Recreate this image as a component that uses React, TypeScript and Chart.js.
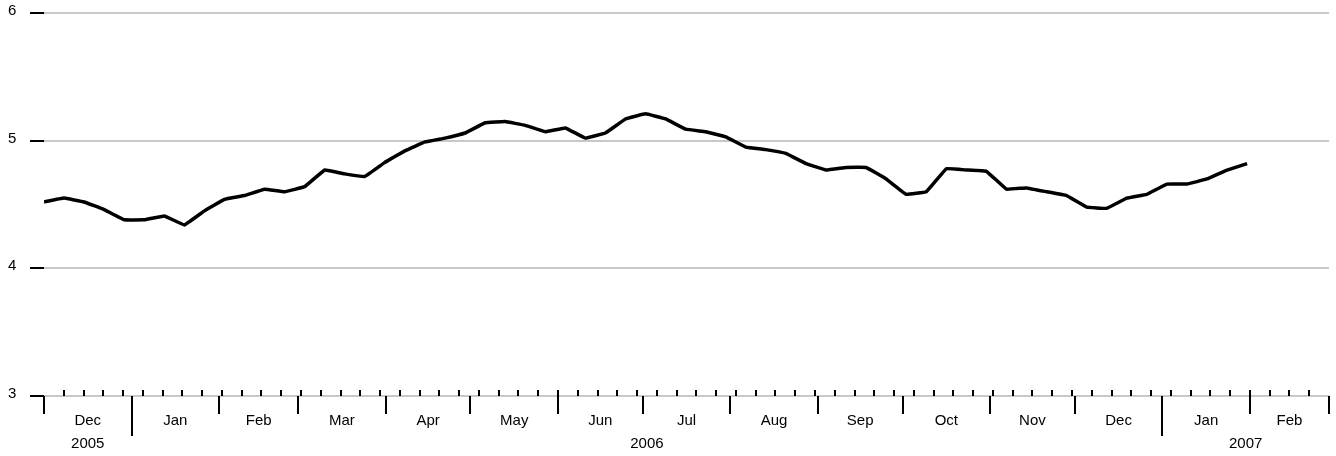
import { useEffect, useRef } from "react";
import { Chart, ChartConfiguration, Plugin, registerables } from "chart.js";

Chart.register(...registerables);

// weekly values starting 2005-12-01
const startDate = Date.UTC(2005, 11, 1);
const values = [
  4.52, 4.55, 4.52, 4.46, 4.38, 4.38, 4.41, 4.34, 4.45, 4.54, 4.57, 4.62, 4.6,
  4.64, 4.77, 4.74, 4.72, 4.83, 4.92, 4.99, 5.02, 5.06, 5.14, 5.15, 5.12, 5.07,
  5.1, 5.02, 5.06, 5.17, 5.21, 5.17, 5.09, 5.07, 5.03, 4.95, 4.93, 4.9, 4.82,
  4.77, 4.79, 4.79, 4.7, 4.58, 4.6, 4.78, 4.77, 4.76, 4.62, 4.63, 4.6, 4.57,
  4.48, 4.47, 4.55, 4.58, 4.66, 4.66, 4.7, 4.77, 4.82,
];
const monthLabels = ["Dec", "Jan", "Feb", "Mar", "Apr", "May", "Jun", "Jul", "Aug", "Sep", "Oct", "Nov", "Dec", "Jan", "Feb"];
const monthStarts = [
  [2005, 11], [2006, 0], [2006, 1], [2006, 2], [2006, 3], [2006, 4], [2006, 5], [2006, 6],
  [2006, 7], [2006, 8], [2006, 9], [2006, 10], [2006, 11], [2007, 0], [2007, 1], [2007, 2],
];
const yearLabels = [
  { text: "2005", from: [2005, 11], to: [2006, 0] },
  { text: "2006", from: [2006, 0], to: [2007, 0] },
  { text: "2007", from: [2007, 0], to: [2007, 2] },
];
const yTicks = [3, 4, 5, 6];

const DAY = 86400000;
const dayOf = (y: number, m: number) => (Date.UTC(y, m, 1) - startDate) / DAY;
const endDay = dayOf(2007, 2);
const step = 7.1;

const axisPlugin: Plugin = {
  id: "customAxes",
  beforeDatasetsDraw(chart) {
    const { ctx, chartArea: a } = chart;
    const ys = chart.scales.y;
    ctx.save();
    ctx.strokeStyle = "#c8c8c8";
    ctx.lineWidth = 2;
    yTicks.forEach((v) => {
      const y = Math.round(ys.getPixelForValue(v));
      ctx.beginPath();
      ctx.moveTo(a.left, y);
      ctx.lineTo(a.right, y);
      ctx.stroke();
    });
    ctx.restore();
  },
  afterDatasetsDraw(chart) {
    const { ctx, chartArea: a } = chart;
    const xs = chart.scales.x;
    const ys = chart.scales.y;
    ctx.save();
    ctx.strokeStyle = "#000";
    ctx.fillStyle = "#000";
    ctx.font = "15px 'Liberation Sans', Arial, sans-serif";
    ctx.lineWidth = 2;
    ctx.textAlign = "left";
    ctx.textBaseline = "middle";
    yTicks.forEach((v) => {
      const y = Math.round(ys.getPixelForValue(v));
      ctx.beginPath();
      ctx.moveTo(a.left - 14, y);
      ctx.lineTo(a.left, y);
      ctx.stroke();
      ctx.fillText(String(v), 8, y - 2);
    });
    const base = Math.round(a.bottom);
    for (let d = 7; d < endDay; d += 7) {
      const x = Math.round(xs.getPixelForValue(d));
      ctx.beginPath();
      ctx.moveTo(x, base - 6);
      ctx.lineTo(x, base);
      ctx.stroke();
    }
    monthStarts.forEach(([y, m]) => {
      const x = Math.round(xs.getPixelForValue(dayOf(y, m)));
      const len = m === 0 ? 40 : 18;
      ctx.beginPath();
      ctx.moveTo(x, base);
      ctx.lineTo(x, base + len);
      ctx.stroke();
    });
    ctx.textAlign = "center";
    monthLabels.forEach((lab, i) => {
      const [y0, m0] = monthStarts[i];
      const [y1, m1] = monthStarts[i + 1];
      const x = (xs.getPixelForValue(dayOf(y0, m0)) + xs.getPixelForValue(dayOf(y1, m1))) / 2;
      ctx.fillText(lab, x, base + 25);
    });
    yearLabels.forEach((yl) => {
      const x = (xs.getPixelForValue(dayOf(yl.from[0], yl.from[1])) + xs.getPixelForValue(dayOf(yl.to[0], yl.to[1]))) / 2;
      ctx.fillText(yl.text, x, base + 48);
    });
    ctx.restore();
  },
};

export default function App() {
  const canvasRef = useRef<HTMLCanvasElement>(null);
  const chartRef = useRef<Chart | null>(null);

  useEffect(() => {
    document.body.style.margin = "0";
    if (!canvasRef.current) return;
    if (chartRef.current) chartRef.current.destroy();
    const ctx = canvasRef.current.getContext("2d");
    if (!ctx) return;

    const config: ChartConfiguration = {
      type: "line",
      data: {
        datasets: [
          {
            data: values.map((v, i) => ({ x: i * step, y: v })),
            borderColor: "#000",
            borderWidth: 3.5,
            pointRadius: 0,
            tension: 0.05,
            fill: false,
          },
        ],
      },
      options: {
        animation: false,
        responsive: true,
        maintainAspectRatio: false,
        layout: { padding: { left: 44, right: 7, top: 13, bottom: 60 } },
        plugins: { legend: { display: false }, tooltip: { enabled: false } },
        scales: {
          x: { type: "linear", min: 0, max: endDay, display: false },
          y: { min: 3, max: 6, display: false },
        },
      },
      plugins: [axisPlugin],
    };
    chartRef.current = new Chart(ctx, config);
    return () => {
      if (chartRef.current) chartRef.current.destroy();
    };
  }, []);

  return (
    <div style={{ width: 1336, height: 456, position: "relative" }}>
      <canvas ref={canvasRef} />
    </div>
  );
}
